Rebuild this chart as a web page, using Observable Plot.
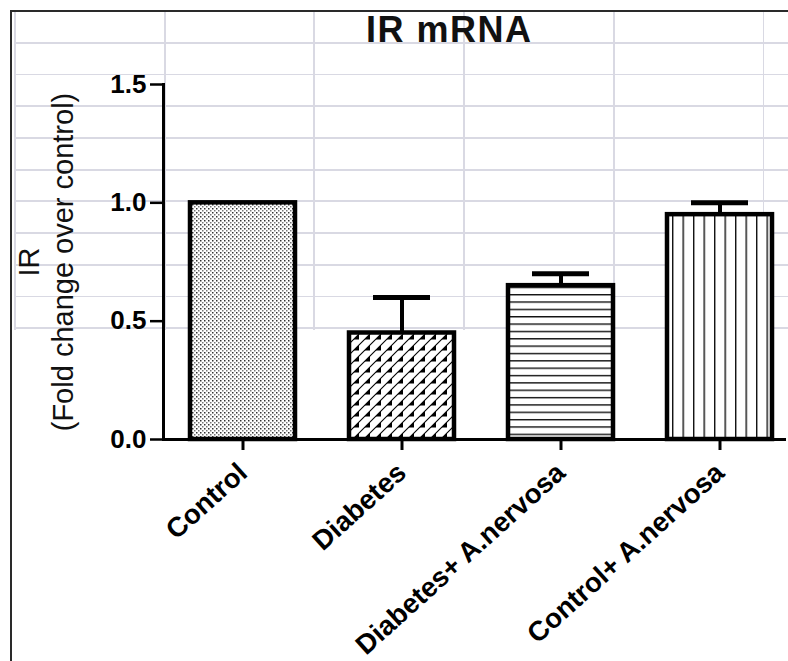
<!DOCTYPE html>
<html><head><meta charset="utf-8">
<script src="https://cdn.jsdelivr.net/npm/d3@7"></script>
<script src="https://cdn.jsdelivr.net/npm/@observablehq/plot@0.6"></script>
<style>
html,body{margin:0;padding:0;background:#fff;}
#wrap{position:relative;width:788px;height:661px;overflow:hidden;font-family:"Liberation Sans",Arial,sans-serif;}
#frame{position:absolute;left:10px;top:10px;right:0;bottom:0;border-left:2px solid #2a2a2a;border-top:2px solid #2a2a2a;}
#grid{position:absolute;left:14px;top:12px;width:774px;height:318px;
 background-image: repeating-linear-gradient(to bottom, transparent 0 29.9px, #d9d9e3 29.9px 31.7px), repeating-linear-gradient(to right, #d9d9e3 0 1.8px, transparent 1.8px 149.7px);}
#title{position:absolute;left:366px;top:12px;font-size:36px;line-height:36px;font-weight:bold;letter-spacing:1.5px;white-space:nowrap;color:#111;}
#chart{position:absolute;left:0;top:0;}
</style></head>
<body>
<div id="wrap">
  <div id="grid"></div>
  <div id="frame"></div>
  <div id="chart"></div>
  <div id="title">IR mRNA</div>
</div>
<script>
const groups = ["Control", "Diabetes", "Diabetes+ A.nervosa", "Control+ A.nervosa"];
const means = [1.0, 0.45, 0.65, 0.95];
const sems = [0, 0.15, 0.05, 0.05];
const yTicks = [0, 0.5, 1.0, 1.5];
const patternIds = ["stipple", "diagTri", "hLines", "vLines"];
const yLabel = "IR\n(Fold change over control)";

const rows = groups.map((g, i) => ({group: g, mean: means[i], sem: sems[i], pattern: patternIds[i]}));
const errRows = rows.filter(d => d.sem > 0);

const barMarks = rows.map(r => Plot.barY([r], {
  x: "group", y: "mean", fill: `url(#${r.pattern})`, stroke: "#000", strokeWidth: 4.5
}));

const chart = Plot.plot({
  width: 788, height: 661,
  marginLeft: 163, marginRight: 2, marginTop: 84, marginBottom: 222,
  style: {background: "transparent", fontFamily: "'Liberation Sans', Arial, sans-serif", color: "#000", overflow: "visible"},
  x: {domain: groups, paddingInner: 0.34, paddingOuter: 0.126, align: 0.662},
  y: {domain: [0, 1.5]},
  marks: [
    ...barMarks,
    Plot.ruleX(errRows, {x: "group", y1: "mean", y2: d => d.mean + d.sem, stroke: "#000", strokeWidth: 4}),
    Plot.tickY(errRows, {x: "group", y: d => d.mean + d.sem, stroke: "#000", strokeWidth: 5, insetLeft: 24, insetRight: 24}),
    Plot.ruleY([0], {stroke: "#000", strokeWidth: 3}),
    Plot.frame({anchor: "left", stroke: "#000", strokeWidth: 3}),
    Plot.axisY({ticks: yTicks, tickFormat: d3.format(".1f"), tickSize: 13, tickPadding: 4, fontSize: 26, fontWeight: "bold", strokeWidth: 2.5, label: null}),
    Plot.axisX({tickSize: 11, tickPadding: 18, tickRotate: -42, fontSize: 27.5, fontWeight: "bold", strokeWidth: 3, label: null}),
    Plot.text([yLabel], {text: d => d, frameAnchor: "left", rotate: -90, dx: -149, lineAnchor: "top", textAnchor: "middle", fontSize: 29, lineHeight: 1.17, fill: "#111"})
  ]
});

const defs = d3.select(chart).insert("defs", ":first-child");
// fine stipple
let p = defs.append("pattern").attr("id", "stipple").attr("patternUnits", "userSpaceOnUse").attr("width", 4).attr("height", 4);
p.append("rect").attr("width", 4).attr("height", 4).attr("fill", "#fff");
p.append("rect").attr("x", 0).attr("y", 0).attr("width", 1.5).attr("height", 1.5).attr("fill", "#333");
p.append("rect").attr("x", 2).attr("y", 2).attr("width", 1.5).attr("height", 1.5).attr("fill", "#777");
// diagonal lines with triangles
p = defs.append("pattern").attr("id", "diagTri").attr("patternUnits", "userSpaceOnUse").attr("width", 11).attr("height", 11);
p.append("rect").attr("width", 11).attr("height", 11).attr("fill", "#fff");
p.append("path").attr("d", "M0,11 L11,0 M-1,1 L1,-1 M10,12 L12,10").attr("stroke", "#000").attr("stroke-width", 1.1);
p.append("path").attr("d", "M1.5,9.5 L7,4 L7,9.5 Z").attr("fill", "#000");
// horizontal lines
p = defs.append("pattern").attr("id", "hLines").attr("patternUnits", "userSpaceOnUse").attr("width", 10).attr("height", 7.35);
p.append("rect").attr("width", 10).attr("height", 7.35).attr("fill", "#fff");
p.append("rect").attr("x", 0).attr("y", 0).attr("width", 10).attr("height", 1.4).attr("fill", "#111");
// vertical lines
p = defs.append("pattern").attr("id", "vLines").attr("patternUnits", "userSpaceOnUse").attr("width", 10.5).attr("height", 10);
p.append("rect").attr("width", 10.5).attr("height", 10).attr("fill", "#fff");
p.append("rect").attr("x", 0).attr("y", 0).attr("width", 1.4).attr("height", 10).attr("fill", "#111");

document.getElementById("chart").appendChild(chart);
</script>
</body></html>
